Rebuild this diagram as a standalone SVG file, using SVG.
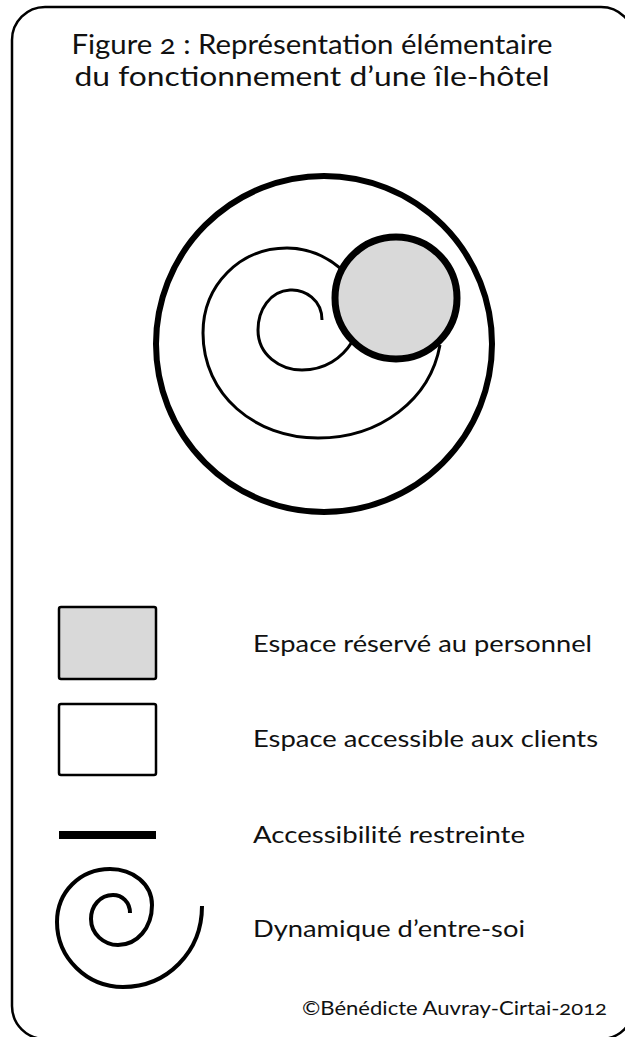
<svg xmlns="http://www.w3.org/2000/svg" width="625" height="1037" viewBox="0 0 625 1037">
<style>
text{font-family:Lato,"Open Sans","Liberation Sans",sans-serif;fill:#111;font-variant-numeric:oldstyle-nums}
.t{font-size:27px;text-anchor:middle}
.l{font-size:24px}
.c{font-size:20px}
.sp{fill:none;stroke:#000}
</style>
<rect x="12" y="7" width="622" height="1032" rx="33" fill="#fff" stroke="#000" stroke-width="2.5"/>
<g id="title">
<text class="t" x="312" y="54" textLength="481" lengthAdjust="spacingAndGlyphs">Figure 2 : Représentation élémentaire</text>
<text class="t" x="312" y="86" textLength="475" lengthAdjust="spacingAndGlyphs">du fonctionnement d’une île-hôtel</text>
</g>
<g id="diagram">
<circle id="outer" cx="324" cy="344" r="168" fill="none" stroke="#000" stroke-width="6"/>
<path id="spiral" class="sp" stroke-width="3" d="M322,320 C322,300 305,289 290,290 C270,291 258,310 258,330 C258,355 280,370 302,370 C325,370 342,358 352,342 C365,320 360,285 340,268 C322,253 305,248 287,248 C240,248 203,285 203,333 C203,395 255,438 318,438 C380,438 430,400 440,345"/>
<circle id="staff" cx="396" cy="298" r="61" fill="#d9d9d9" stroke="#000" stroke-width="7"/>
</g>
<g id="legend">
<g id="lg-staff"><rect x="59" y="607" width="97" height="72" rx="2" fill="#d9d9d9" stroke="#000" stroke-width="2.5"/>
<text class="l" x="253" y="652" textLength="339" lengthAdjust="spacingAndGlyphs">Espace réservé au personnel</text></g>
<g id="lg-client"><rect x="59" y="704" width="97" height="71" rx="2" fill="#fff" stroke="#000" stroke-width="2.5"/>
<text class="l" x="253" y="747" textLength="345" lengthAdjust="spacingAndGlyphs">Espace accessible aux clients</text></g>
<g id="lg-restr"><line x1="59" y1="835" x2="156" y2="835" stroke="#000" stroke-width="8"/>
<text class="l" x="253" y="843" textLength="272" lengthAdjust="spacingAndGlyphs">Accessibilité restreinte</text></g>
<g id="lg-dyn"><path class="sp" stroke-width="4" d="M130,913 C130,902 122,895 113,895 C100,895 91,906 91,919 C91,934 104,945 118,945 C137,945 152,928 152,905 C152,884 133,869 110,869 C80,869 57,892 57,922 C57,958 87,987 123,987 C167,987 202,952 202,906"/>
<text class="l" x="253" y="937" textLength="272" lengthAdjust="spacingAndGlyphs">Dynamique d’entre-soi</text></g>
</g>
<text class="c" x="302" y="1015" textLength="305" lengthAdjust="spacingAndGlyphs">©Bénédicte Auvray-Cirtai-2012</text>
</svg>
